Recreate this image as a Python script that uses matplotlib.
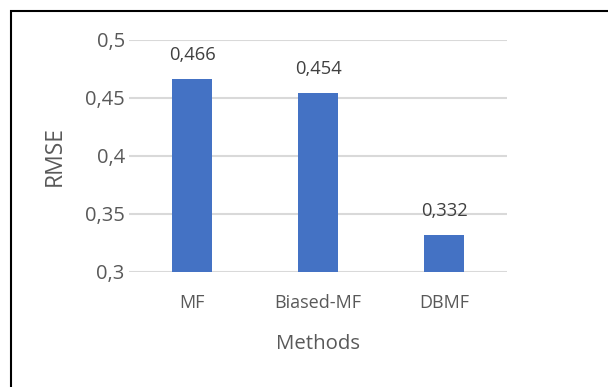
import matplotlib.pyplot as plt
import matplotlib.patches as patches
from matplotlib.ticker import FuncFormatter, MultipleLocator

methods = ['MF', 'Biased-MF', 'DBMF']
rmse = [0.466, 0.454, 0.332]

plt.rcParams['font.family'] = ['Open Sans', 'DejaVu Sans']
grey = '#595959'

fig = plt.figure(figsize=(6.08, 3.87), dpi=100)
ax = fig.add_axes([129/608, 1 - 272/387, 378/608, 232/387])

x = range(len(methods))
ax.bar(x, [v - 0.3 for v in rmse], bottom=0.3, width=0.317, color='#4472C4', zorder=3)
for i, v in zip(x, rmse):
    ax.annotate(('%.3f' % v).replace('.', ','), (i, v), xytext=(0, 11), textcoords='offset points',
                ha='center', va='bottom', fontsize=13.2, color='#404040')

ax.set_xlim(-0.5, 2.5)
ax.set_ylim(0.3, 0.5)
ax.yaxis.set_major_locator(MultipleLocator(0.05))
ax.yaxis.set_major_formatter(FuncFormatter(lambda v, p: ('%g' % round(v, 2)).replace('.', ',')))
ax.grid(axis='y', color='#d9d9d9', linewidth=1.5, zorder=0)
ax.set_xticks(list(x))
ax.set_xticklabels(methods)
ax.tick_params(length=0, labelcolor=grey)
ax.tick_params(axis='y', pad=3, labelsize=14.5)
ax.tick_params(axis='x', pad=16, labelsize=13)
for s in ax.spines.values():
    s.set_visible(False)
ax.set_ylabel('RMSE', fontsize=16.5, color=grey, labelpad=13)
ax.set_xlabel('Methods', fontsize=14.7, color=grey, labelpad=16)

# outer frame (cut at right and bottom like the reference)
fig.patches.append(patches.Rectangle((11/608, -0.2), 1.2, 1 - 11/387 + 0.2, transform=fig.transFigure,
                                     fill=False, edgecolor='black', linewidth=1.5))

fig.savefig('out.png', dpi=100)
